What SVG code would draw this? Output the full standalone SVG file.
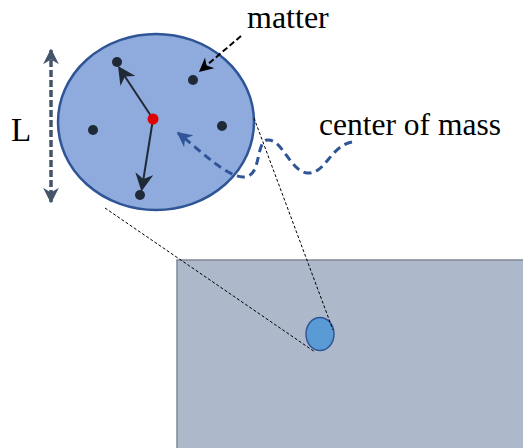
<svg xmlns="http://www.w3.org/2000/svg" width="523" height="448" viewBox="0 0 523 448">
<style>
.lbl{font-family:"Liberation Serif","Times New Roman",serif;fill:#000}
.dot{fill:#1f2a36}
.thin{fill:none;stroke:#000;stroke-width:1;stroke-dasharray:3 2}
</style>
<defs>
<marker id="stealth" viewBox="0 0 10 10" refX="8" refY="5" markerWidth="18" markerHeight="18" orient="auto-start-reverse" markerUnits="userSpaceOnUse">
<path d="M0,0 L10,5 L0,10 L3,5 Z" fill="#1f2a36"/>
</marker>
<marker id="blk" viewBox="0 0 10 10" refX="9" refY="5" markerWidth="7" markerHeight="7" orient="auto" markerUnits="strokeWidth">
<path d="M0,0 L10,5 L0,10 L3,5 Z" fill="#000"/>
</marker>
<marker id="blu" viewBox="0 0 10 10" refX="9" refY="5" markerWidth="5" markerHeight="5" orient="auto" markerUnits="strokeWidth">
<path d="M0,0 L10,5 L0,10 L3,5 Z" fill="#2F5597"/>
</marker>
<marker id="gry" viewBox="0 0 10 10" refX="9" refY="5" markerWidth="4.5" markerHeight="4.5" orient="auto-start-reverse" markerUnits="strokeWidth">
<path d="M0,0 L10,5 L0,10 L3,5 Z" fill="#44546A"/>
</marker>
</defs>
<g id="plane">
<rect x="177" y="260" width="350" height="192" fill="#ADB9CA" stroke="#7F8897" stroke-width="1.5"/>
</g>
<g id="body">
<ellipse cx="156" cy="122" rx="98" ry="88" fill="#8FAADC" stroke="#2F5597" stroke-width="2.5"/>
<circle class="dot" cx="117" cy="62" r="5"/>
<circle class="dot" cx="193" cy="80" r="5"/>
<circle class="dot" cx="93" cy="130" r="5"/>
<circle class="dot" cx="222" cy="126" r="5"/>
<circle class="dot" cx="140" cy="195" r="5"/>
</g>
<g id="point">
<ellipse cx="320" cy="334" rx="14" ry="16.5" fill="#5B9BD5" stroke="#2F5597" stroke-width="1.5"/>
</g>
<g id="connectors">
<line class="thin" x1="105" y1="208" x2="315" y2="352"/>
<line class="thin" x1="254" y1="118" x2="333" y2="330"/>
<line x1="153" y1="119" x2="120" y2="69" stroke="#1f2a36" stroke-width="2" marker-end="url(#stealth)"/>
<line x1="153" y1="119" x2="142" y2="188" stroke="#1f2a36" stroke-width="2" marker-end="url(#stealth)"/>
<line x1="241" y1="36" x2="200" y2="71" stroke="#000" stroke-width="2" stroke-dasharray="6 3" marker-end="url(#blk)"/>
<path d="M352,142 C330,146 325,175 307,173 C290,171 282,138 267,140 C255,143 262,178 243,177 C225,176 200,150 178,133" fill="none" stroke="#2F5597" stroke-width="3" stroke-dasharray="8 5" marker-end="url(#blu)"/>
<line x1="51" y1="50" x2="51" y2="202" stroke="#44546A" stroke-width="3.5" stroke-dasharray="7 3" marker-start="url(#gry)" marker-end="url(#gry)"/>
</g>
<g id="labels">
<text class="lbl" x="247" y="28" font-size="32">matter</text>
<text class="lbl" x="319" y="135" font-size="31.5">center of mass</text>
<text class="lbl" x="11" y="141" font-size="33">L</text>
</g>
<circle id="com" cx="153" cy="119" r="5.5" fill="#E00000"/>
</svg>
